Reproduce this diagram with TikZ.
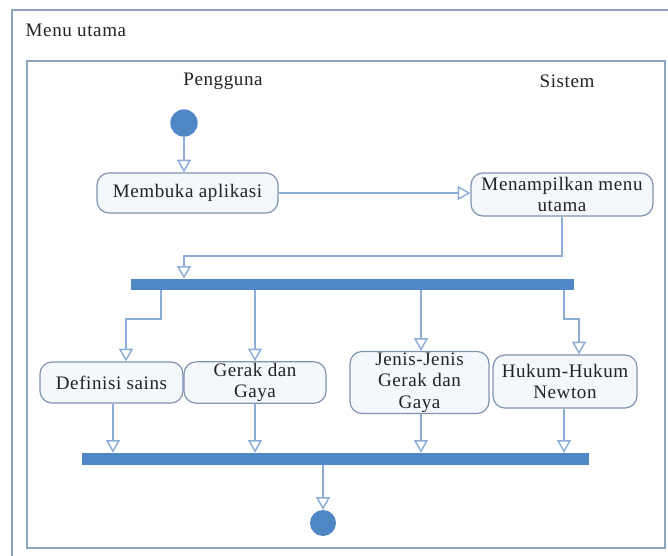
\documentclass[tikz,border=0pt]{standalone}
\usepackage{fontspec}
\setmainfont[LetterSpace=3]{Liberation Serif}
\usetikzlibrary{arrows.meta,calc}
\definecolor{framec}{RGB}{142,164,190}
\definecolor{flowc}{RGB}{140,174,214}
\definecolor{boxc}{RGB}{128,148,178}
\definecolor{boxfill}{RGB}{244,248,252}
\definecolor{barc}{RGB}{79,134,198}
\definecolor{txtc}{RGB}{35,35,35}
\tikzset{
  frameline/.style={draw=framec,line width=1.6pt},
  actbox/.style={draw=boxc,line width=0.9pt,fill=boxfill,rounded corners=9pt,align=center,inner sep=1pt,text=txtc,font=\fontsize{14.3}{16}\selectfont},
  syncbar/.style={fill=barc,draw=none,inner sep=0pt},
  dot/.style={circle,fill=barc,draw=none,inner sep=0pt},
  flow/.style={draw=flowc,line width=1.1pt,-{Triangle[open,width=10.5pt,length=9.5pt,fill=white]}},
  lane/.style={text=txtc,font=\fontsize{14.3}{16}\selectfont},
}
\begin{document}
\begin{tikzpicture}[x=0.75pt,y=-0.75pt]
\useasboundingbox (0,0) rectangle (668,556);
% frames
\draw[frameline] (12,556) -- (12,10) -- (668,10);
\node[anchor=west,lane] (title) at (21,30) {Menu utama};
\draw[frameline] (27,61) rectangle (665,548);
\node[lane] (lp) at (223,81) {Pengguna};
\node[lane] (ls) at (567,81) {Sistem};
% nodes
\node[dot,minimum size=20.5pt] (start) at (184,123) {};
\node[actbox,minimum width=135.75pt,minimum height=30pt] (mb) at (187.5,193) {Membuka aplikasi};
\node[actbox,minimum width=136.5pt,minimum height=32.25pt] (mm) at (562,194.5) {Menampilkan menu\\utama};
\node[syncbar,minimum width=332.25pt,minimum height=8.25pt] (fork) at (352.5,284.5) {};
\node[actbox,minimum width=107.25pt,minimum height=30.75pt] (ds) at (111.5,382.5) {Definisi sains};
\node[actbox,minimum width=106.5pt,minimum height=30.75pt] (gg) at (255,382.5) {Gerak dan\\Gaya};
\node[actbox,minimum width=104.25pt,minimum height=45.75pt] (jj) at (419.5,382.5) {Jenis-Jenis\\Gerak dan\\Gaya};
\node[actbox,minimum width=108pt,minimum height=39.75pt] (hh) at (565,381.5) {Hukum-Hukum\\Newton};
\node[syncbar,minimum width=380.25pt,minimum height=9pt] (join) at (335.5,459) {};
\node[dot,minimum size=19.5pt] (end) at (323,523) {};
% helper coordinates
\coordinate (k1) at (184,256);
\coordinate (a1) at (161,319);
\coordinate (a2) at (126,319);
\coordinate (xg) at (255,0);
\coordinate (xj) at (421,0);
\coordinate (b1) at (564,319);
\coordinate (b2) at (579,319);
\coordinate (xd) at (113,0);
\coordinate (xh) at (564,0);
\coordinate (xe) at (323,0);
% connectors
\draw[flow] (start.south) -- (start.south |- mb.north);
\draw[flow] (mb.east) -- (mb.east -| mm.west);
\draw[flow] (mm.south) |- (k1) -- (k1 |- fork.north);
\draw[flow] (a1 |- fork.south) -- (a1) -- (a2) -- (a2 |- ds.north);
\draw[flow] (xg |- fork.south) -- (xg |- gg.north);
\draw[flow] (xj |- fork.south) -- (xj |- jj.north);
\draw[flow] (b1 |- fork.south) -- (b1) -- (b2) -- (b2 |- hh.north);
\draw[flow] (xd |- ds.south) -- (xd |- join.north);
\draw[flow] (xg |- gg.south) -- (xg |- join.north);
\draw[flow] (xj |- jj.south) -- (xj |- join.north);
\draw[flow] (xh |- hh.south) -- (xh |- join.north);
\draw[flow] (xe |- join.south) -- (end.north);
\end{tikzpicture}
\end{document}
